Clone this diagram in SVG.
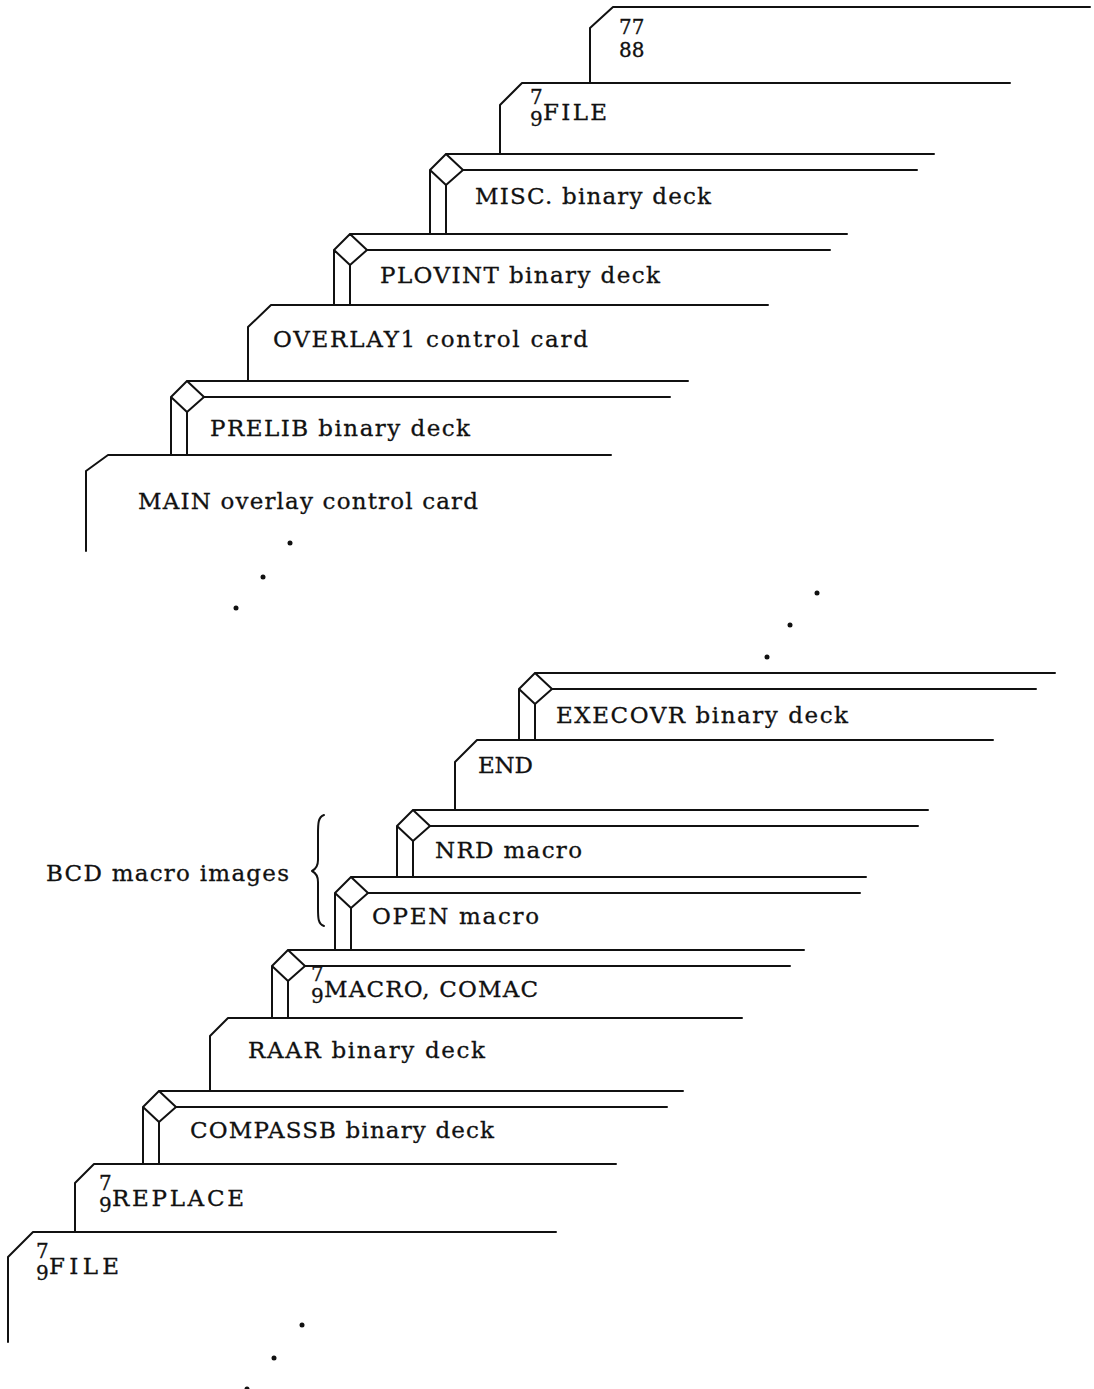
<svg xmlns="http://www.w3.org/2000/svg" width="1094" height="1389" viewBox="0 0 1094 1389">
<style>
.ln{fill:none;stroke:#111;stroke-width:2;stroke-linejoin:round;stroke-linecap:round}
.t{font-family:"DejaVu Serif","Liberation Serif",serif;font-size:23px;fill:#111;stroke:#111;stroke-width:0.3}
.d{font-family:"DejaVu Serif","Liberation Serif",serif;font-size:20px;fill:#111;stroke:#111;stroke-width:0.3}
.dot{fill:#111}
</style>
<rect width="1094" height="1389" fill="#fff"/>
<g id="card-7788">
<path class="ln" d="M590,83 V28 L613,7 H1090"/>
<text class="d" x="619" y="34">77</text>
<text class="d" x="619" y="57">88</text>
</g>
<g id="card-file-top">
<path class="ln" d="M500,154 V105 L522,83 H1010"/>
<text class="d" x="530" y="104">7</text>
<text class="d" x="530" y="126">9</text>
<text class="t" x="543" y="120" textLength="64" lengthAdjust="spacing">FILE</text>
</g>
<g id="card-misc">
<path class="ln" d="M430,234 V170 M430,170 L446,154 L463,170 L446,185 Z M446,154 H934 M463,170 H917 M446,185 V234"/>
<text class="t" x="475" y="204" textLength="236" lengthAdjust="spacing">MISC. binary deck</text>
</g>
<g id="card-plovint">
<path class="ln" d="M334,305 V250 M334,250 L350,234 L367,250 L350,265 Z M350,234 H847 M367,250 H830 M350,265 V305"/>
<text class="t" x="380" y="283" textLength="280" lengthAdjust="spacing">PLOVINT binary deck</text>
</g>
<g id="card-overlay1">
<path class="ln" d="M248,381 V327 L271,305 H768"/>
<text class="t" x="273" y="347" textLength="315" lengthAdjust="spacing">OVERLAY1 control card</text>
</g>
<g id="card-prelib">
<path class="ln" d="M171,455 V397 M171,397 L187,381 L204,397 L187,412 Z M187,381 H688 M204,397 H670 M187,412 V455"/>
<text class="t" x="210" y="436" textLength="260" lengthAdjust="spacing">PRELIB binary deck</text>
</g>
<g id="card-main">
<path class="ln" d="M86,551 V471 L108,455 H611"/>
<text class="t" x="138" y="509" textLength="340" lengthAdjust="spacing">MAIN overlay control card</text>
</g>
<g id="card-execovr">
<path class="ln" d="M519,740 V689 M519,689 L535,673 L552,689 L535,704 Z M535,673 H1055 M552,689 H1036 M535,704 V740"/>
<text class="t" x="556" y="723" textLength="292" lengthAdjust="spacing">EXECOVR binary deck</text>
</g>
<g id="card-end">
<path class="ln" d="M455,810 V762 L477,740 H993"/>
<text class="t" x="478" y="773" textLength="55" lengthAdjust="spacing">END</text>
</g>
<g id="card-nrd">
<path class="ln" d="M397,877 V826 M397,826 L413,810 L430,826 L413,841 Z M413,810 H928 M430,826 H918 M413,841 V877"/>
<text class="t" x="435" y="858" textLength="147" lengthAdjust="spacing">NRD macro</text>
</g>
<g id="card-open">
<path class="ln" d="M335,950 V893 M335,893 L351,877 L368,893 L351,908 Z M351,877 H866 M368,893 H860 M351,908 V950"/>
<text class="t" x="372" y="924" textLength="167" lengthAdjust="spacing">OPEN macro</text>
</g>
<g id="card-macro">
<path class="ln" d="M272,1018 V966 M272,966 L288,950 L305,966 L288,981 Z M288,950 H804 M305,966 H790 M288,981 V1018"/>
<text class="d" x="311" y="981">7</text>
<text class="d" x="311" y="1003">9</text>
<text class="t" x="324" y="997" textLength="214" lengthAdjust="spacing">MACRO, COMAC</text>
</g>
<g id="card-raar">
<path class="ln" d="M210,1091 V1036 L228,1018 H742"/>
<text class="t" x="248" y="1058" textLength="237" lengthAdjust="spacing">RAAR binary deck</text>
</g>
<g id="card-compassb">
<path class="ln" d="M143,1164 V1107 M143,1107 L159,1091 L176,1107 L159,1122 Z M159,1091 H683 M176,1107 H667 M159,1122 V1164"/>
<text class="t" x="190" y="1138" textLength="304" lengthAdjust="spacing">COMPASSB binary deck</text>
</g>
<g id="card-replace">
<path class="ln" d="M75,1232 V1183 L94,1164 H616"/>
<text class="d" x="99" y="1190">7</text>
<text class="d" x="99" y="1212">9</text>
<text class="t" x="112" y="1206" textLength="132" lengthAdjust="spacing">REPLACE</text>
</g>
<g id="card-file-bottom">
<path class="ln" d="M8,1342 V1257 L33,1232 H556"/>
<text class="d" x="36" y="1258">7</text>
<text class="d" x="36" y="1280">9</text>
<text class="t" x="49" y="1274" textLength="70" lengthAdjust="spacing">FILE</text>
</g>
<g id="bcd-label">
<text class="t" x="46" y="881" textLength="243" lengthAdjust="spacing">BCD macro images</text>
<path class="ln" d="M324,815 C318,817 318,824 318,834 L318,860 C318,866 316,869 312,871 C316,873 318,876 318,882 L318,908 C318,918 318,924 324,926"/>
</g>
<g id="connectors"></g>
<g id="ellipses">
<circle class="dot" cx="290" cy="543" r="2.5"/>
<circle class="dot" cx="263" cy="577" r="2.5"/>
<circle class="dot" cx="236" cy="608" r="2.5"/>
<circle class="dot" cx="817" cy="593" r="2.5"/>
<circle class="dot" cx="790" cy="625" r="2.5"/>
<circle class="dot" cx="767" cy="657" r="2.5"/>
<circle class="dot" cx="302" cy="1325" r="2.5"/>
<circle class="dot" cx="274" cy="1358" r="2.5"/>
<circle class="dot" cx="247" cy="1389" r="2.5"/>
</g>
</svg>
